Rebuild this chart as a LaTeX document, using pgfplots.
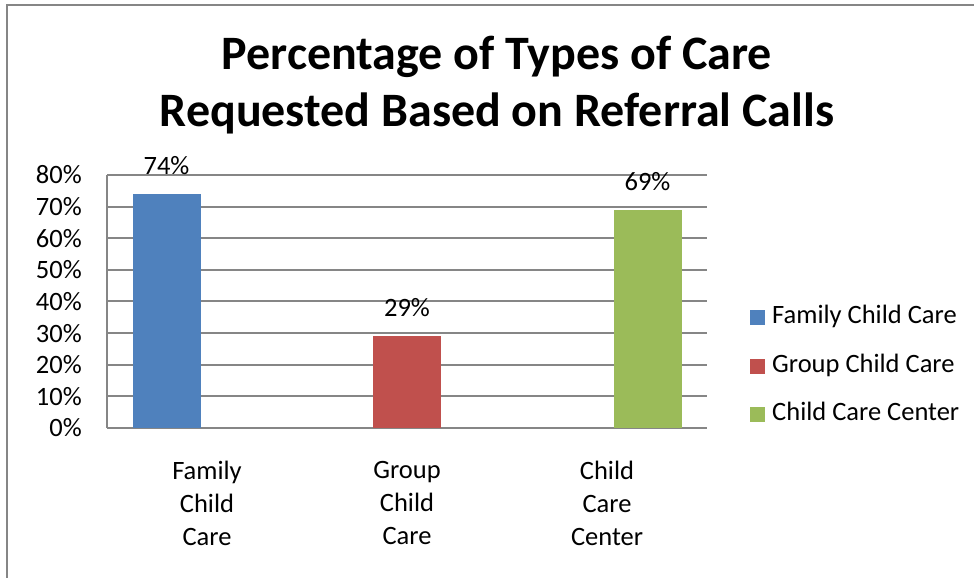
\documentclass[border=0pt]{standalone}
\usepackage{pgfplots}
\pgfplotsset{compat=1.18}
\usepackage{fontspec}
\setmainfont{Carlito}
\definecolor{cblue}{RGB}{79,129,189}
\definecolor{cred}{RGB}{192,80,77}
\definecolor{cgreen}{RGB}{155,187,89}
\definecolor{cgrid}{RGB}{134,134,134}
\newcommand{\lblfont}{\fontsize{26.5bp}{33bp}\selectfont}
\newcommand{\ttlfont}{\fontsize{48bp}{57bp}\selectfont\bfseries}
\begin{document}
\begin{tikzpicture}[x=1bp,y=1bp]
\path[use as bounding box] (0,0) rectangle (974,578);
\draw[cgrid, line width=2bp] (7,-10) -- (7,573) -- (990,573);
\node[anchor=base, font=\ttlfont, inner sep=0pt] at (497,508) {Percentage of Types of Care};
\node[anchor=base, font=\ttlfont, inner sep=0pt] at (497,451) {Requested Based on Referral Calls};
\begin{axis}[
  at={(107bp,150bp)}, anchor=south west,
  scale only axis, width=600bp, height=253bp,
  ybar, bar width=68bp,
  clip=false,
  xmin=-0.5, xmax=2.5, ymin=0, ymax=80,
  xtick={0,1,2},
  xticklabels={Family\\Child\\Care, Group\\Child\\Care, Child\\Care\\Center},
  ytick={0,10,20,30,40,50,60,70,80},
  yticklabels={0\%,10\%,20\%,30\%,40\%,50\%,60\%,70\%,80\%},
  xticklabel style={font=\lblfont, align=center, anchor=north, inner sep=0pt, yshift=-33bp},
  yticklabel style={font=\lblfont, anchor=east, inner sep=0pt, xshift=-25bp},
  major tick length=0pt,
  axis x line*=bottom, axis y line*=left,
  axis line style={cgrid, line width=2bp, -},
  ymajorgrids, grid style={cgrid, line width=2bp},
  /pgf/number format/assume math mode=true,
  nodes near coords={\pgfmathprintnumber{\pgfplotspointmeta}\%},
  every node near coord/.append style={font=\lblfont, anchor=base, inner sep=0pt, yshift=19.5bp, text=black},
  legend style={at={(axis description cs:1.0717,0.245)}, anchor=west, draw=none, fill=none,
    inner sep=0pt, row sep=24.5bp, column sep=7bp, font=\lblfont,
    nodes={inner sep=0pt, text height=18bp, text depth=6bp, anchor=west}},
  legend cell align=left,
  legend image code/.code={\fill[#1, draw=none] (0bp,-7.5bp) rectangle (15bp,7.5bp);},
]
\addplot[fill=cblue, draw=none, bar shift=-40.5bp] coordinates {(0,74)};
\addplot[fill=cred, draw=none, bar shift=0bp] coordinates {(1,29)};
\addplot[fill=cgreen, draw=none, bar shift=40.5bp] coordinates {(2,69)};
\legend{Family Child Care, Group Child Care, Child Care Center}
\end{axis}
\end{tikzpicture}
\end{document}
